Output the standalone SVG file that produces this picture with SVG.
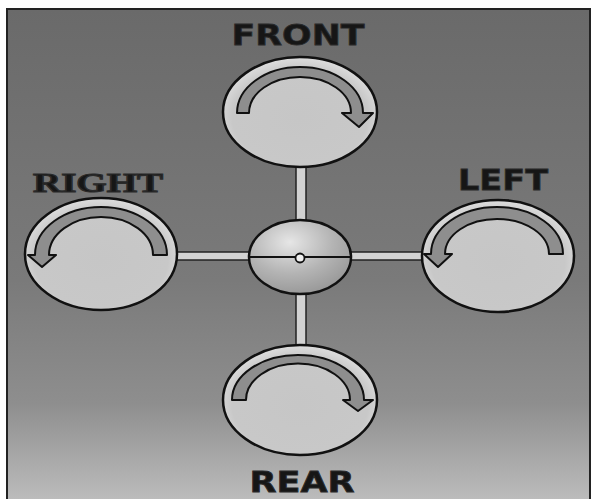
<svg xmlns="http://www.w3.org/2000/svg" width="592" height="499" viewBox="0 0 592 499">
<defs>
<linearGradient id="bg" x1="0" y1="0" x2="0" y2="1">
<stop offset="0" stop-color="#6a6a6a"/>
<stop offset="0.55" stop-color="#7a7a7a"/>
<stop offset="0.8" stop-color="#8e8e8e"/>
<stop offset="1" stop-color="#bdbdbd"/>
</linearGradient>
<radialGradient id="disc" cx="0.5" cy="0.55" r="0.55">
<stop offset="0" stop-color="#c6c6c6"/>
<stop offset="0.8" stop-color="#c8c8c8"/>
<stop offset="1" stop-color="#dedede"/>
</radialGradient>
<radialGradient id="hub" cx="0.4" cy="0.3" r="0.7">
<stop offset="0" stop-color="#e6e6e6"/>
<stop offset="0.6" stop-color="#b4b4b4"/>
<stop offset="1" stop-color="#9a9a9a"/>
</radialGradient>
<style>
.disc{fill:url(#disc);stroke:#111;stroke-width:2.5}
.arrow{fill:#8e8e8e;stroke:#111;stroke-width:2;stroke-linejoin:round}
.bar{fill:#d2d2d2;stroke:#222;stroke-width:1.5}
.lbl{font-family:"DejaVu Sans","Liberation Sans",sans-serif;font-weight:bold;font-size:28px;fill:#161616;stroke:#2a2a2a;stroke-width:0.8}
.serif{font-family:"Liberation Serif","DejaVu Serif",serif;stroke-width:1.2}
</style>
</defs>
<rect x="0" y="0" width="592" height="499" fill="#ffffff"/>
<rect x="7" y="9" width="583" height="493" fill="url(#bg)" stroke="#222" stroke-width="2"/>
<g id="connectors">
<rect class="bar" x="296" y="160" width="10" height="64"/>
<rect class="bar" x="296" y="290" width="10" height="60"/>
<rect class="bar" x="172" y="252" width="80" height="8"/>
<rect class="bar" x="348" y="252" width="78" height="8"/>
</g>
<g id="front">
<ellipse class="disc" cx="300" cy="112" rx="77" ry="55"/>
<path class="arrow" d="M237,113 A63,46 0 0 1 363,113 L373,113 L359,127 L342,113 L351,113 A51,36 0 0 0 249,113 Z"/>
<text class="lbl" x="298" y="45" text-anchor="middle" textLength="133" lengthAdjust="spacingAndGlyphs">FRONT</text>
</g>
<g id="right">
<ellipse class="disc" cx="101" cy="254" rx="76" ry="56"/>
<path class="arrow" d="M167,255 A66,48 0 0 0 35,255 L28,255 L42,267 L56,255 L49,255 A52,38 0 0 1 153,255 Z"/>
<text class="lbl serif" x="98" y="192" text-anchor="middle" textLength="130" lengthAdjust="spacingAndGlyphs">RIGHT</text>
</g>
<g id="left">
<ellipse class="disc" cx="498" cy="256" rx="76" ry="56"/>
<path class="arrow" d="M563,254 A66,47 0 0 0 431,254 L424,254 L438,267 L452,254 L445,254 A52,35 0 0 1 549,254 Z"/>
<text class="lbl" x="503" y="190" text-anchor="middle" textLength="90" lengthAdjust="spacingAndGlyphs">LEFT</text>
</g>
<g id="rear">
<ellipse class="disc" cx="300" cy="400" rx="77" ry="55"/>
<path class="arrow" d="M232,400 A66,45 0 0 1 364,400 L373,400 L358,411 L343,400 L350,400 A50,35 0 0 0 246,400 Z"/>
<text class="lbl" x="302" y="492" text-anchor="middle" textLength="105" lengthAdjust="spacingAndGlyphs">REAR</text>
</g>
<g id="hub">
<ellipse cx="300" cy="257" rx="51" ry="37" fill="url(#hub)" stroke="#111" stroke-width="2.5"/>
<line x1="249" y1="257" x2="351" y2="257" stroke="#111" stroke-width="2"/>
<circle cx="300" cy="258" r="4.5" fill="#eeeeee" stroke="#111" stroke-width="1.8"/>
</g>
</svg>
